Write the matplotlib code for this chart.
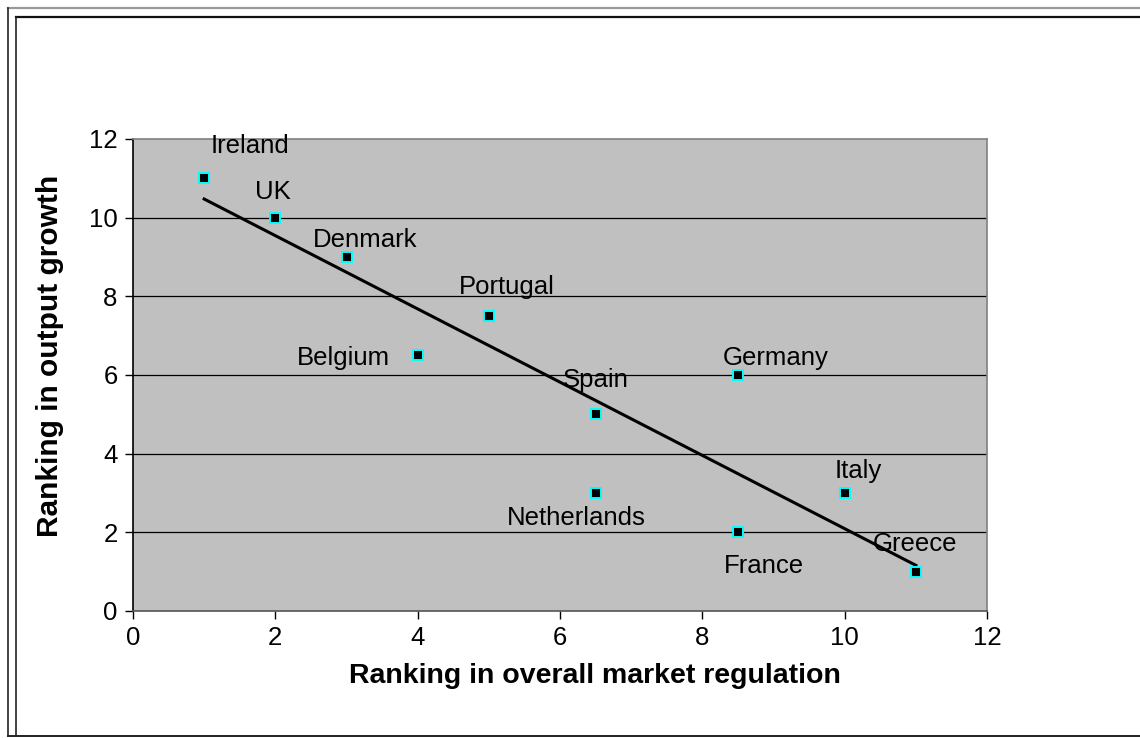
import numpy as np
import matplotlib
matplotlib.use("Agg")
import matplotlib.pyplot as plt
from matplotlib.lines import Line2D

plt.rcParams["font.family"] = ["Liberation Sans", "DejaVu Sans"]

countries  = ["Ireland", "UK", "Denmark", "Portugal", "Belgium", "Spain",
              "Germany", "Netherlands", "France", "Italy", "Greece"]
regulation = [1, 2, 3, 5, 4, 6.5, 8.5, 6.5, 8.5, 10, 11]
growth     = [11, 10, 9, 7.5, 6.5, 5, 6, 3, 2, 3, 1]

# label offsets in pixels (dx, dy) from each point
OFFS = {"Ireland": (46, 32), "UK": (-2, 26), "Denmark": (19, 17),
        "Portugal": (18, 29), "Belgium": (-74, -3), "Spain": (0, 34),
        "Germany": (38, 17), "Netherlands": (-19, -25), "France": (26, -34),
        "Italy": (14, 22), "Greece": (-1, 28)}

W, H = 1140, 738
fig = plt.figure(figsize=(W / 100, H / 100), dpi=100, facecolor="white")
ax = fig.add_axes([133 / W, 1 - 611 / H, (987 - 133) / W, (611 - 139) / H])
ax.set_facecolor("#C0C0C0")

ax.set_xlim(0, 12)
ax.set_ylim(0, 12)
ax.set_xticks(range(0, 13, 2))
ax.set_yticks(range(0, 13, 2))
for y in range(2, 12, 2):
    ax.axhline(y, color="black", lw=0.9, zorder=1)

# trend line (least squares)
k, b = np.polyfit(regulation, growth, 1)
xs = np.array([min(regulation), max(regulation)])
ax.plot(xs, k * xs + b, color="black", lw=2.2, zorder=2)

ax.plot(regulation, growth, ls="none", marker="s", ms=6.5,
        mfc="black", mec="#00FFFF", mew=1.4, zorder=3)

for c, x, y in zip(countries, regulation, growth):
    dx, dy = OFFS[c]
    ax.annotate(c, (x, y), xytext=(dx, dy), textcoords="offset pixels",
                ha="center", va="center", fontsize=18.5, zorder=4)

for s in ["top", "right"]:
    ax.spines[s].set_color("#808080")
ax.spines["bottom"].set_color("#555555")
ax.spines["left"].set_color("black")
for s in ax.spines.values():
    s.set_linewidth(1.2)
ax.tick_params(direction="out", length=6, width=1, labelsize=18.5, pad=5)

# axis titles (Excel puts them slightly off-centre)
fig.text(595 / W, 1 - 676 / H, "Ranking in overall market regulation",
         fontsize=20.5, fontweight="bold", ha="center", va="center")
fig.text(50 / W, 1 - 356 / H, "Ranking in output growth", rotation=90,
         fontsize=21.5, fontweight="bold", ha="center", va="center")

# chart frame
def fl(x0, y0, x1, y1, col, lw):
    fig.add_artist(Line2D([x0 / W, x1 / W], [1 - y0 / H, 1 - y1 / H],
                          transform=fig.transFigure, color=col, lw=lw))

fl(8, 8, W, 8, "#999999", 1.6)
fl(8, 8, 8, 736, "#222222", 1.2)
fl(16, 17, W, 17, "#111111", 1.6)
fl(16, 17, 16, 736, "#222222", 1.2)
fl(8, 736, W, 736, "#222222", 1.4)

fig.savefig("out.png", dpi=100, facecolor="white")
